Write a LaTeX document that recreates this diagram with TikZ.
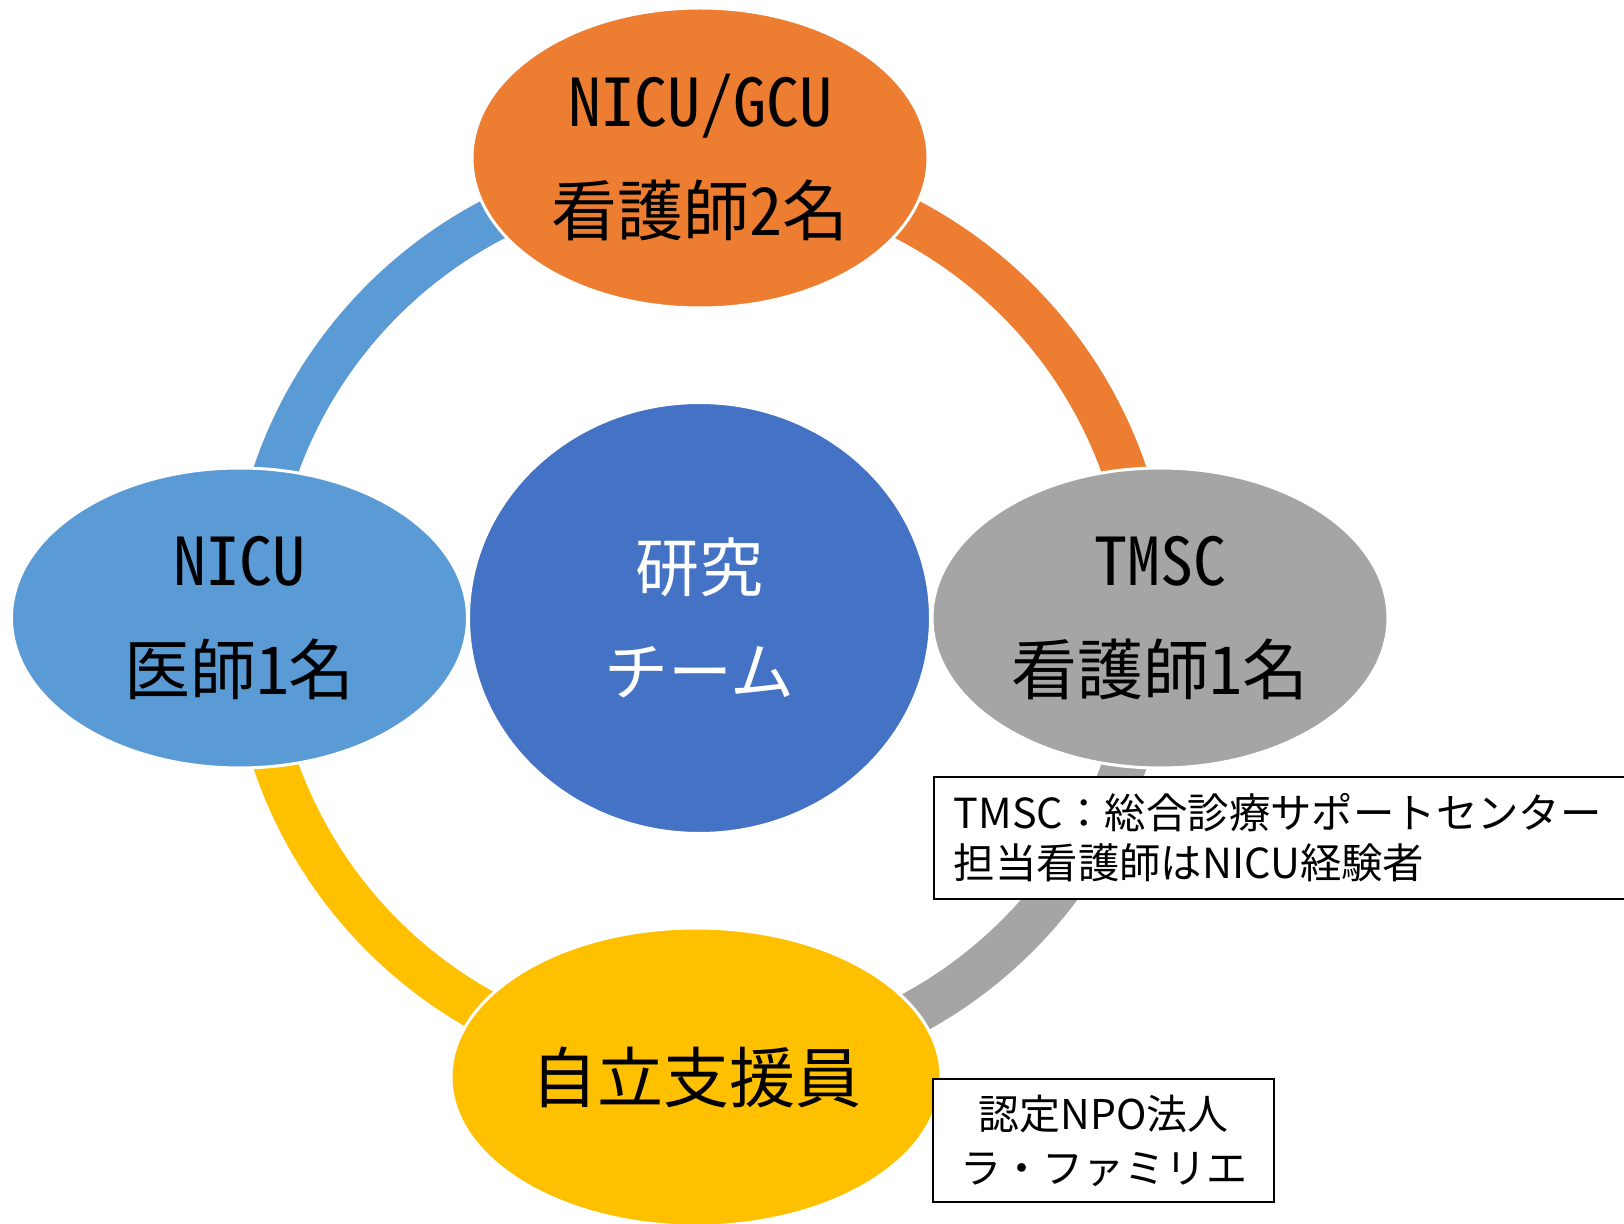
\documentclass[tikz,border=0pt]{standalone}
\usepackage{fontspec}
\setmainfont{Noto Sans CJK JP}
\newfontfamily\hwfont{Noto Sans CJK JP}[RawFeature=+hwid]
\usetikzlibrary{shapes.geometric}
\definecolor{cOrange}{HTML}{ED7D31}
\definecolor{cLightBlue}{HTML}{5B9BD5}
\definecolor{cGray}{HTML}{A5A5A5}
\definecolor{cYellow}{HTML}{FFC000}
\definecolor{cDarkBlue}{HTML}{4472C4}
\begin{document}
\begin{tikzpicture}[x=0.5pt,y=0.5pt,
  ringseg/.style={line width=22pt},
  blob/.style={ellipse, draw=white, line width=1.5pt, inner sep=0pt, align=center,
    minimum width=228pt, minimum height=150pt,
    font=\hwfont\fontsize{33}{54.5}\selectfont},
  hubblob/.style={ellipse, draw=white, line width=1pt, inner sep=0pt, align=center,
    fill=cDarkBlue, text=white, minimum width=230.5pt, minimum height=215pt,
    font=\fontsize{32}{52}\selectfont},
  notebox/.style={draw=black, line width=0.9pt, fill=white,
    font=\fontsize{20.7}{25}\selectfont}
]
\useasboundingbox (0,0) rectangle (1624,-1224);
\clip (0,0) rectangle (1624,-1224);
\fill[white] (0,0) rectangle (1624,-1224);

\coordinate (hub) at (700,-618);

% ring segments
\draw[ringseg, cOrange]    ([shift={(0:449)}]hub)   arc[start angle=0,   end angle=90,  radius=449];
\draw[ringseg, cLightBlue] ([shift={(90:449)}]hub)  arc[start angle=90,  end angle=180, radius=449];
\draw[ringseg, cYellow]    ([shift={(180:449)}]hub) arc[start angle=180, end angle=270, radius=449];
\draw[ringseg, cGray]      ([shift={(270:449)}]hub) arc[start angle=270, end angle=360, radius=449];

% outer ellipses
\node[blob, fill=cOrange] (nurses) at (700,-158) {NICU/GCU\\看護師2名};
\node[blob, fill=cLightBlue] (doctor) at (239.5,-618) {NICU\\医師1名};
\node[blob, fill=cGray] (tmsc) at (1160,-618) {TMSC\\看護師1名};
\node[blob, fill=cYellow, minimum width=245pt, minimum height=149pt,
      font=\hwfont\fontsize{33}{40}\selectfont] (support) at (696,-1077) {自立支援員};

% centre
\node[hubblob] (team) at (699.5,-618) {研究\\チーム};

% notes
\node[notebox, anchor=north west, text width=370pt, inner xsep=10pt,
      minimum height=61pt, align=left] (tmscnote) at (933,-776)
  {TMSC：総合診療サポートセンター\\担当看護師はNICU経験者};
\node[notebox, minimum width=170.5pt, minimum height=61.5pt, align=center,
      font=\fontsize{20.5}{27}\selectfont] (npo) at (1103.5,-1140.5)
  {認定NPO法人\\ラ・ファミリエ};
\end{tikzpicture}
\end{document}
